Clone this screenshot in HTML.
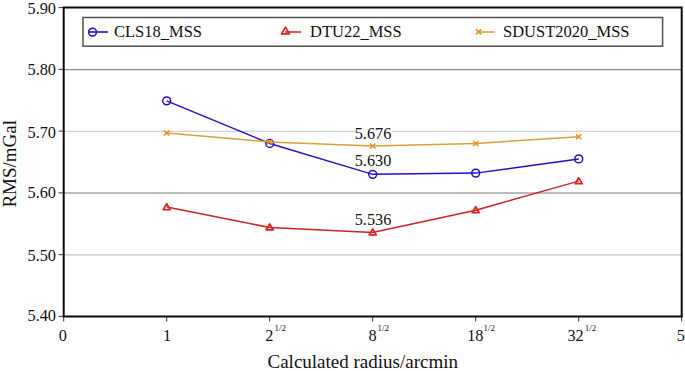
<!DOCTYPE html>
<html><head><meta charset="utf-8"><style>
html,body{margin:0;padding:0;background:#fff;}
svg{display:block;}
text{font-family:"Liberation Serif",serif;fill:#111;}
.t{font-size:16.3px;}
.s{font-size:9px;}
.lg{font-size:16.5px;}
.ax{font-size:19px;}
</style></head><body>
<svg width="685" height="371" viewBox="0 0 685 371">
<rect width="685" height="371" fill="#fff"/>
<line x1="64" y1="69.60" x2="681" y2="69.60" stroke="#8a8a8a" stroke-width="1.3"/>
<line x1="64" y1="131.45" x2="681" y2="131.45" stroke="#d2d2d2" stroke-width="1.3"/>
<line x1="64" y1="193.00" x2="681" y2="193.00" stroke="#a4a4a4" stroke-width="1.3"/>
<line x1="64" y1="254.95" x2="681" y2="254.95" stroke="#c2c2c2" stroke-width="1.3"/>
<line x1="58.5" y1="316.40" x2="64" y2="316.40" stroke="#333" stroke-width="1"/>
<text x="56" y="321.20" text-anchor="end" class="t">5.40</text>
<line x1="58.5" y1="254.64" x2="64" y2="254.64" stroke="#333" stroke-width="1"/>
<text x="56" y="260.60" text-anchor="end" class="t">5.50</text>
<line x1="58.5" y1="192.88" x2="64" y2="192.88" stroke="#333" stroke-width="1"/>
<text x="56" y="198.10" text-anchor="end" class="t">5.60</text>
<line x1="58.5" y1="131.12" x2="64" y2="131.12" stroke="#333" stroke-width="1"/>
<text x="56" y="137.80" text-anchor="end" class="t">5.70</text>
<line x1="58.5" y1="69.36" x2="64" y2="69.36" stroke="#333" stroke-width="1"/>
<text x="56" y="74.90" text-anchor="end" class="t">5.80</text>
<line x1="58.5" y1="7.60" x2="64" y2="7.60" stroke="#333" stroke-width="1"/>
<text x="56" y="13.70" text-anchor="end" class="t">5.90</text>
<line x1="63.70" y1="316.4" x2="63.70" y2="321.5" stroke="#333" stroke-width="1"/>
<line x1="166.70" y1="316.4" x2="166.70" y2="321.5" stroke="#333" stroke-width="1"/>
<line x1="269.70" y1="316.4" x2="269.70" y2="321.5" stroke="#333" stroke-width="1"/>
<line x1="372.70" y1="316.4" x2="372.70" y2="321.5" stroke="#333" stroke-width="1"/>
<line x1="475.70" y1="316.4" x2="475.70" y2="321.5" stroke="#333" stroke-width="1"/>
<line x1="578.70" y1="316.4" x2="578.70" y2="321.5" stroke="#333" stroke-width="1"/>
<line x1="681.70" y1="316.4" x2="681.70" y2="321.5" stroke="#333" stroke-width="1"/>
<text x="62.70" y="341.3" text-anchor="middle" class="t">0</text>
<text x="167.10" y="341.3" text-anchor="middle" class="t">1</text>
<text x="269.20" y="341.3" text-anchor="middle" class="t">2</text>
<text x="274.60" y="331.1" class="s">1/2</text>
<text x="372.50" y="341.3" text-anchor="middle" class="t">8</text>
<text x="377.60" y="331.1" class="s">1/2</text>
<text x="475.30" y="341.3" text-anchor="middle" class="t">18</text>
<text x="483.50" y="331.1" class="s">1/2</text>
<text x="575.60" y="341.3" text-anchor="middle" class="t">32</text>
<text x="584.70" y="331.1" class="s">1/2</text>
<text x="680.70" y="341.3" text-anchor="middle" class="t">5</text>
<polyline points="166.70,100.86 269.70,143.47 372.70,174.35 475.70,173.12 578.70,158.91" fill="none" stroke="#2010cc" stroke-width="1.5"/>
<circle cx="166.70" cy="100.86" r="3.95" fill="none" stroke="#2010cc" stroke-width="1.5"/>
<circle cx="269.70" cy="143.47" r="3.95" fill="none" stroke="#2010cc" stroke-width="1.5"/>
<circle cx="372.70" cy="174.35" r="3.95" fill="none" stroke="#2010cc" stroke-width="1.5"/>
<circle cx="475.70" cy="173.12" r="3.95" fill="none" stroke="#2010cc" stroke-width="1.5"/>
<circle cx="578.70" cy="158.91" r="3.95" fill="none" stroke="#2010cc" stroke-width="1.5"/>
<polyline points="166.70,207.08 269.70,227.47 372.70,232.41 475.70,210.17 578.70,181.15" fill="none" stroke="#cc2222" stroke-width="1.5"/>
<path d="M166.70,203.58 L170.25,209.58 L163.15,209.58 Z" fill="none" stroke="#dc2222" stroke-width="1.7" stroke-linejoin="round"/>
<path d="M269.70,223.97 L273.25,229.97 L266.15,229.97 Z" fill="none" stroke="#dc2222" stroke-width="1.7" stroke-linejoin="round"/>
<path d="M372.70,228.91 L376.25,234.91 L369.15,234.91 Z" fill="none" stroke="#dc2222" stroke-width="1.7" stroke-linejoin="round"/>
<path d="M475.70,206.67 L479.25,212.67 L472.15,212.67 Z" fill="none" stroke="#dc2222" stroke-width="1.7" stroke-linejoin="round"/>
<path d="M578.70,177.65 L582.25,183.65 L575.15,183.65 Z" fill="none" stroke="#dc2222" stroke-width="1.7" stroke-linejoin="round"/>
<polyline points="166.70,132.97 269.70,141.93 372.70,145.94 475.70,143.47 578.70,136.68" fill="none" stroke="#daa03c" stroke-width="1.5"/>
<path d="M164.00,130.47 L169.40,135.47 M169.40,130.47 L164.00,135.47" stroke="#ee8c1c" stroke-width="1.5"/>
<path d="M267.00,139.43 L272.40,144.43 M272.40,139.43 L267.00,144.43" stroke="#ee8c1c" stroke-width="1.5"/>
<path d="M370.00,143.44 L375.40,148.44 M375.40,143.44 L370.00,148.44" stroke="#ee8c1c" stroke-width="1.5"/>
<path d="M473.00,140.97 L478.40,145.97 M478.40,140.97 L473.00,145.97" stroke="#ee8c1c" stroke-width="1.5"/>
<path d="M576.00,134.18 L581.40,139.18 M581.40,134.18 L576.00,139.18" stroke="#ee8c1c" stroke-width="1.5"/>
<rect x="355.8" y="127.6" width="35.4" height="12" fill="#fff"/>
<text x="373" y="139.1" text-anchor="middle" class="t">5.676</text>
<rect x="355.8" y="154.3" width="35.4" height="12" fill="#fff"/>
<text x="373" y="165.8" text-anchor="middle" class="t">5.630</text>
<rect x="355.8" y="213.1" width="35.4" height="12" fill="#fff"/>
<text x="373" y="224.6" text-anchor="middle" class="t">5.536</text>
<path d="M63.7,7.6 H681.7 V316.4 H63.7 Z" fill="none" stroke="#0a0a0a" stroke-width="2"/>
<rect x="83" y="17.5" width="579.6" height="28.7" fill="#fff" stroke="#525252" stroke-width="1.5"/>
<line x1="89" y1="32" x2="108" y2="32" stroke="#2010cc" stroke-width="1.6"/>
<circle cx="92.50" cy="32.10" r="3.95" fill="none" stroke="#2010cc" stroke-width="1.5"/>
<line x1="285" y1="32" x2="301" y2="32" stroke="#cc2222" stroke-width="1.5"/>
<path d="M285.50,27.22 L289.48,33.94 L281.52,33.94 Z" fill="none" stroke="#dc2222" stroke-width="1.7" stroke-linejoin="round"/>
<line x1="478.5" y1="32" x2="494.6" y2="32" stroke="#daa03c" stroke-width="1.5"/>
<path d="M475.90,29.40 L481.30,34.40 M481.30,29.40 L475.90,34.40" stroke="#ee8c1c" stroke-width="1.5"/>
<text x="114" y="37" class="lg">CLS18<tspan dy="1.4">_</tspan><tspan dy="-1.4">MSS</tspan></text>
<text x="310" y="37" class="lg">DTU22<tspan dy="1.4">_</tspan><tspan dy="-1.4">MSS</tspan></text>
<text x="503" y="37" class="lg">SDUST2020<tspan dy="1.4">_</tspan><tspan dy="-1.4">MSS</tspan></text>
<text x="267.5" y="367.5" class="ax">Calculated radius/arcmin</text>
<text transform="translate(16,163.8) rotate(-90)" text-anchor="middle" class="ax">RMS/mGal</text>
</svg>
</body></html>
